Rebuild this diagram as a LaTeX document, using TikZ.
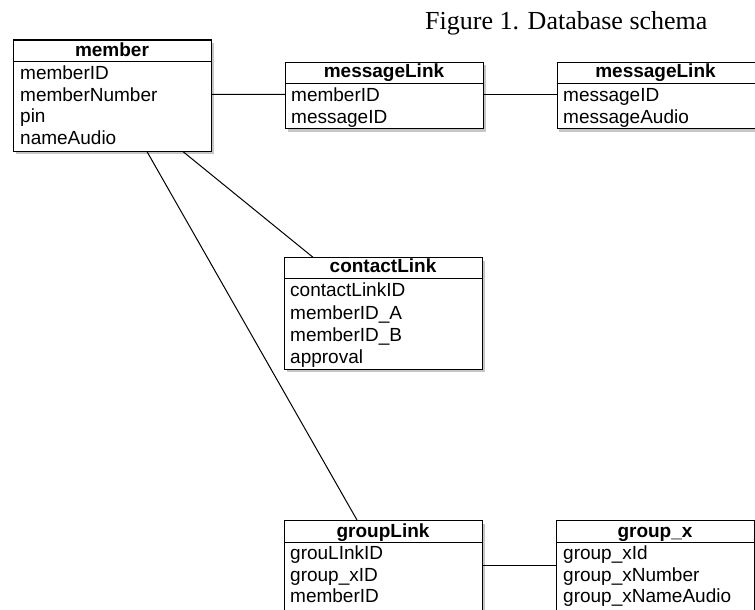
\documentclass[tikz,border=0pt]{standalone}
\usepackage{fontspec}
\setmainfont{Liberation Sans}
\newfontfamily\titlefont{Liberation Serif}
\usetikzlibrary{shadows}
\begin{document}
\begin{tikzpicture}[x=1pt,y=-1pt,
  tbl/.style={draw=black, line width=1.1pt, fill=white, anchor=north west, inner sep=0pt,
    minimum width=198pt, drop shadow={opacity=0.45, shadow xshift=2pt, shadow yshift=-3pt}},
  hdr/.style={anchor=base, font=\fontsize{19}{21}\selectfont\bfseries, inner sep=0pt},
  fld/.style={anchor=base west, font=\fontsize{19}{21}\selectfont, inner sep=0pt},
  conn/.style={draw=black, line width=1pt},
  sep/.style={draw=black, line width=1pt}]
\useasboundingbox (0,0) rectangle (755,610);
% title
\node[anchor=base west, inner sep=0pt, font=\titlefont\fontsize{26}{30}\selectfont] (title) at (425,29.5) {Figure 1. Database schema};

% member
\node[tbl, minimum height=111pt] (member) at (13,39.5) {};
\draw[sep] (13,61.5) -- (211,61.5);
\node[hdr] (memberH) at (112,56.7) {member};
\node[fld] (m1) at (20,80) {memberID};
\node[fld] (m2) at (20,101.4) {memberNumber};
\node[fld] (m3) at (20,122.8) {pin};
\node[fld] (m4) at (20,144.2) {nameAudio};

% messageLink 1
\node[tbl, minimum height=66.5pt] (ml1) at (285,61.8) {};
\draw[sep] (285,83.3) -- (483,83.3);
\node[hdr] (ml1H) at (384,77.3) {messageLink};
\node[fld] (ml1a) at (291,101.7) {memberID};
\node[fld] (ml1b) at (291,123.2) {messageID};

% messageLink 2
\node[tbl, minimum height=66.5pt] (ml2) at (556.5,61.8) {};
\draw[sep] (556.5,83.3) -- (754.5,83.3);
\node[hdr] (ml2H) at (655.5,77.3) {messageLink};
\node[fld] (ml2a) at (563,101.7) {messageID};
\node[fld] (ml2b) at (563,123.2) {messageAudio};

% contactLink
\node[tbl, minimum height=111.5pt] (cl) at (284,257.3) {};
\draw[sep] (284,278.6) -- (482,278.6);
\node[hdr] (clH) at (383,272.3) {contactLink};
\node[fld] (cl1) at (290,296.7) {contactLinkID};
\node[fld] (cl2) at (290,319.2) {memberID\_A};
\node[fld] (cl3) at (290,341.5) {memberID\_B};
\node[fld] (cl4) at (290,363.3) {approval};

% groupLink
\node[tbl, minimum height=110pt] (gl) at (284,520) {};
\draw[sep] (284,542.3) -- (482,542.3);
\node[hdr] (glH) at (383,537.3) {groupLink};
\node[fld] (gl1) at (290,559.5) {grouLInkID};
\node[fld] (gl2) at (290,581.3) {group\_xID};
\node[fld] (gl3) at (290,602.8) {memberID};

% group_x
\node[tbl, minimum height=110pt] (gx) at (556,520) {};
\draw[sep] (556,542.3) -- (754,542.3);
\node[hdr] (gxH) at (655,537.3) {group\_x};
\node[fld] (gx1) at (563,559.5) {group\_xId};
\node[fld] (gx2) at (563,581.3) {group\_xNumber};
\node[fld] (gx3) at (563,602.8) {group\_xNameAudio};

% connectors
\draw[conn] ([yshift=-55pt]member.north east) -- ([yshift=-32.5pt]ml1.north west);
\draw[conn] ([yshift=-32.5pt]ml1.north east) -- ([yshift=-32.5pt]ml2.north west);
\draw[conn] ([xshift=170pt]member.south west) -- ([xshift=29pt]cl.north west);
\draw[conn] ([xshift=134pt]member.south west) -- ([xshift=73pt]gl.north west);
\draw[conn] ([yshift=-45pt]gl.north east) -- ([yshift=-45pt]gx.north west);
\end{tikzpicture}
\end{document}
